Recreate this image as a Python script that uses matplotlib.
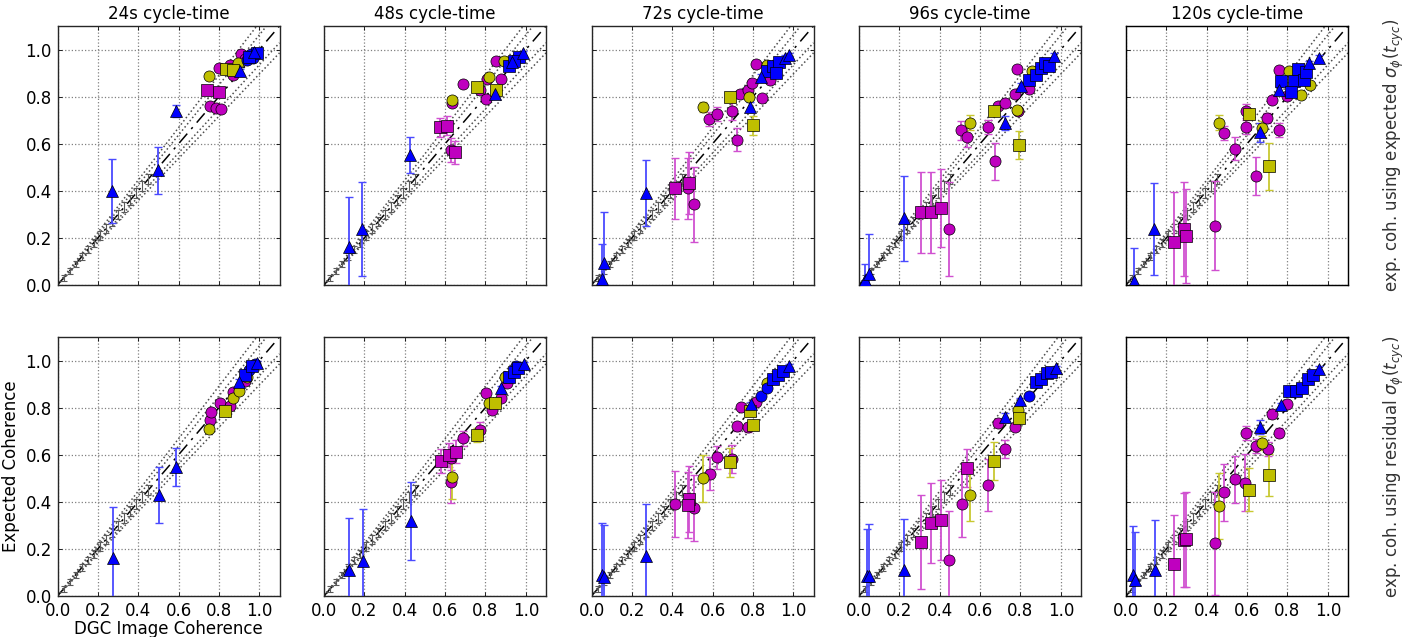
"""Expected vs. DGC image coherence, 2 rows x 5 cycle-times."""

import matplotlib
matplotlib.use("Agg")
import matplotlib.pyplot as plt
import numpy as np

cycle_times = ["24s", "48s", "72s", "96s", "120s"]
row_labels = [r"exp. coh. using expected $\sigma_\phi(t_{cyc})$",
              r"exp. coh. using residual $\sigma_\phi(t_{cyc})$"]
ticks = [0.0, 0.2, 0.4, 0.6, 0.8, 1.0]

# reference band factors and model error bars along the diagonal
band_factors = [1.114, 1.062, 0.935, 0.896]
diag_x = [0.03, 0.06, 0.09, 0.12, 0.15, 0.18, 0.21, 0.24, 0.27,
          0.30, 0.33, 0.36, 0.39, 0.42, 0.45]
diag_err = [0.012, 0.013, 0.014, 0.015, 0.016, 0.017, 0.018, 0.019,
            0.02, 0.02, 0.021, 0.021, 0.022, 0.022, 0.022]

# rows: (kind, x, y, yerr)   kind = colour + marker
exp_24 = [
    ("b^", 0.27, 0.40, 0.135), ("b^", 0.50, 0.487, 0.10), ("b^", 0.585, 0.74, 0.025),
    ("ms", 0.74, 0.827, 0.01), ("ms", 0.80, 0.82, 0.01),
    ("mo", 0.755, 0.762, 0.01), ("mo", 0.785, 0.752, 0.01), ("mo", 0.81, 0.748, 0.01),
    ("mo", 0.80, 0.92, 0.01), ("mo", 0.87, 0.89, 0.01), ("mo", 0.855, 0.936, 0.01),
    ("mo", 0.91, 0.98, 0.01), ("mo", 0.93, 0.96, 0.01),
    ("yo", 0.75, 0.887, 0.01), ("yo", 0.895, 0.943, 0.01),
    ("ys", 0.833, 0.918, 0.01), ("ys", 0.87, 0.912, 0.01),
    ("b^", 0.905, 0.908, 0.01),
    ("bo", 0.937, 0.957, 0.01), ("bo", 0.96, 0.979, 0.01), ("bs", 0.987, 0.986, 0.01),
    ("bs", 0.95, 0.97, 0.01), ("b^", 0.975, 0.99, 0.01), ("bo", 0.97, 0.965, 0.01),
]
exp_48 = [
    ("b^", 0.123, 0.163, 0.21), ("b^", 0.19, 0.237, 0.20), ("b^", 0.428, 0.553, 0.077),
    ("ms", 0.575, 0.67, 0.04), ("ms", 0.61, 0.677, 0.04),
    ("mo", 0.628, 0.574, 0.05), ("ms", 0.65, 0.563, 0.05),
    ("mo", 0.633, 0.773, 0.01), ("yo", 0.633, 0.787, 0.01),
    ("mo", 0.69, 0.854, 0.01), ("ys", 0.756, 0.841, 0.01), ("mo", 0.772, 0.827, 0.01),
    ("mo", 0.805, 0.79, 0.01), ("mo", 0.808, 0.873, 0.01), ("yo", 0.816, 0.884, 0.01),
    ("mo", 0.854, 0.953, 0.01), ("yo", 0.89, 0.95, 0.01), ("mo", 0.879, 0.873, 0.01),
    ("ys", 0.854, 0.83, 0.01), ("b^", 0.849, 0.81, 0.01),
    ("bs", 0.915, 0.93, 0.01), ("b^", 0.93, 0.945, 0.01), ("bo", 0.95, 0.96, 0.01),
    ("bs", 0.965, 0.97, 0.01), ("b^", 0.985, 0.985, 0.01), ("bs", 0.94, 0.95, 0.01),
]
exp_72 = [
    ("b^", 0.054, 0.024, 0.15), ("b^", 0.061, 0.092, 0.22), ("b^", 0.271, 0.39, 0.14),
    ("ms", 0.416, 0.411, 0.13), ("ms", 0.485, 0.433, 0.13), ("mo", 0.477, 0.411, 0.13),
    ("mo", 0.51, 0.343, 0.16),
    ("yo", 0.554, 0.756, 0.02), ("mo", 0.584, 0.706, 0.03), ("mo", 0.622, 0.728, 0.03),
    ("mo", 0.696, 0.739, 0.04), ("mo", 0.719, 0.617, 0.05),
    ("ys", 0.688, 0.80, 0.01), ("ys", 0.798, 0.678, 0.04), ("b^", 0.785, 0.756, 0.02),
    ("yo", 0.78, 0.80, 0.01), ("mo", 0.737, 0.813, 0.01), ("mo", 0.773, 0.83, 0.01),
    ("mo", 0.793, 0.858, 0.01), ("mo", 0.844, 0.794, 0.01), ("mo", 0.814, 0.94, 0.01),
    ("mo", 0.885, 0.872, 0.01), ("yo", 0.872, 0.936, 0.01),
    ("b^", 0.84, 0.885, 0.01), ("bs", 0.87, 0.91, 0.01), ("bs", 0.90, 0.93, 0.01),
    ("bs", 0.93, 0.945, 0.01), ("b^", 0.96, 0.965, 0.01), ("bs", 0.915, 0.90, 0.01),
    ("b^", 0.98, 0.975, 0.01),
]
exp_96 = [
    ("b^", 0.03, 0.02, 0.07), ("b^", 0.05, 0.045, 0.17), ("b^", 0.222, 0.284, 0.18),
    ("ms", 0.309, 0.308, 0.17), ("ms", 0.355, 0.308, 0.17), ("ms", 0.408, 0.326, 0.165),
    ("mo", 0.446, 0.238, 0.20),
    ("mo", 0.507, 0.657, 0.04), ("mo", 0.535, 0.628, 0.04), ("yo", 0.548, 0.69, 0.03),
    ("mo", 0.638, 0.67, 0.03), ("b^", 0.724, 0.688, 0.03), ("mo", 0.676, 0.525, 0.08),
    ("ys", 0.671, 0.74, 0.01), ("ys", 0.794, 0.596, 0.06),
    ("mo", 0.688, 0.762, 0.01), ("mo", 0.724, 0.773, 0.01), ("mo", 0.773, 0.811, 0.01),
    ("mo", 0.786, 0.738, 0.01), ("mo", 0.783, 0.918, 0.01), ("mo", 0.844, 0.833, 0.01),
    ("yo", 0.783, 0.745, 0.01), ("yo", 0.857, 0.908, 0.01), ("b^", 0.803, 0.847, 0.01),
    ("bs", 0.844, 0.872, 0.01), ("bs", 0.875, 0.89, 0.01), ("bs", 0.90, 0.92, 0.01),
    ("bs", 0.92, 0.943, 0.01), ("bs", 0.942, 0.93, 0.01), ("b^", 0.967, 0.974, 0.01),
]
exp_120 = [
    ("b^", 0.039, 0.017, 0.14), ("b^", 0.139, 0.237, 0.195),
    ("ms", 0.238, 0.184, 0.21), ("ms", 0.285, 0.237, 0.20), ("ms", 0.298, 0.209, 0.20),
    ("mo", 0.443, 0.252, 0.19),
    ("yo", 0.459, 0.69, 0.03), ("mo", 0.484, 0.645, 0.03), ("mo", 0.541, 0.579, 0.05),
    ("mo", 0.593, 0.67, 0.03), ("mo", 0.593, 0.738, 0.03), ("ys", 0.607, 0.728, 0.02),
    ("mo", 0.643, 0.464, 0.08), ("ys", 0.711, 0.504, 0.10),
    ("b^", 0.662, 0.648, 0.04), ("yo", 0.675, 0.667, 0.03), ("mo", 0.70, 0.709, 0.02),
    ("mo", 0.757, 0.66, 0.03), ("mo", 0.725, 0.787, 0.01), ("mo", 0.757, 0.915, 0.01),
    ("mo", 0.798, 0.801, 0.01), ("yo", 0.807, 0.911, 0.01), ("yo", 0.867, 0.809, 0.01),
    ("yo", 0.913, 0.851, 0.01),
    ("bs", 0.766, 0.865, 0.01), ("bs", 0.852, 0.918, 0.01), ("bs", 0.831, 0.865, 0.01),
    ("bs", 0.88, 0.87, 0.01), ("bs", 0.82, 0.821, 0.01), ("b^", 0.757, 0.83, 0.01),
    ("b^", 0.905, 0.943, 0.01), ("b^", 0.954, 0.965, 0.01), ("bs", 0.89, 0.905, 0.01),
]
res_24 = [
    ("b^", 0.273, 0.163, 0.215), ("b^", 0.504, 0.428, 0.12), ("b^", 0.587, 0.549, 0.08),
    ("yo", 0.752, 0.708, 0.01), ("mo", 0.755, 0.747, 0.01), ("mo", 0.759, 0.78, 0.01),
    ("mo", 0.805, 0.821, 0.01), ("mo", 0.855, 0.809, 0.01), ("mo", 0.871, 0.865, 0.01),
    ("mo", 0.929, 0.915, 0.01), ("ys", 0.83, 0.787, 0.01), ("yo", 0.871, 0.84, 0.01),
    ("yo", 0.90, 0.872, 0.01), ("yo", 0.94, 0.93, 0.01),
    ("b^", 0.90, 0.91, 0.01), ("bs", 0.93, 0.94, 0.01), ("bo", 0.95, 0.96, 0.01),
    ("bs", 0.965, 0.975, 0.01), ("bo", 0.98, 0.985, 0.01), ("b^", 0.99, 0.99, 0.01),
]
res_48 = [
    ("b^", 0.123, 0.112, 0.22), ("b^", 0.193, 0.149, 0.22), ("b^", 0.431, 0.318, 0.165),
    ("ms", 0.579, 0.574, 0.05), ("ms", 0.62, 0.599, 0.05), ("ms", 0.652, 0.613, 0.05),
    ("mo", 0.628, 0.584, 0.05), ("mo", 0.628, 0.485, 0.09), ("yo", 0.636, 0.504, 0.09),
    ("mo", 0.689, 0.669, 0.03), ("mo", 0.772, 0.707, 0.03), ("ys", 0.756, 0.684, 0.03),
    ("mo", 0.805, 0.864, 0.01), ("mo", 0.83, 0.79, 0.01), ("mo", 0.879, 0.84, 0.01),
    ("mo", 0.907, 0.904, 0.01), ("yo", 0.816, 0.821, 0.01), ("ys", 0.849, 0.821, 0.01),
    ("yo", 0.898, 0.932, 0.01), ("b^", 0.879, 0.882, 0.01),
    ("bs", 0.915, 0.93, 0.01), ("bs", 0.94, 0.95, 0.01), ("bs", 0.96, 0.97, 0.01),
    ("b^", 0.99, 0.985, 0.01), ("bo", 0.95, 0.975, 0.01),
]
res_72 = [
    ("b^", 0.054, 0.091, 0.22), ("b^", 0.06, 0.08, 0.22), ("b^", 0.271, 0.17, 0.22),
    ("mo", 0.416, 0.39, 0.14), ("ms", 0.485, 0.411, 0.14), ("ms", 0.477, 0.386, 0.14),
    ("mo", 0.51, 0.373, 0.14),
    ("yo", 0.554, 0.50, 0.10), ("mo", 0.587, 0.52, 0.07), ("mo", 0.622, 0.589, 0.05),
    ("mo", 0.694, 0.582, 0.06), ("ys", 0.688, 0.567, 0.06),
    ("mo", 0.72, 0.72, 0.02), ("mo", 0.74, 0.802, 0.01), ("mo", 0.773, 0.716, 0.02),
    ("mo", 0.814, 0.823, 0.01), ("ys", 0.798, 0.728, 0.02), ("ys", 0.785, 0.787, 0.01),
    ("yo", 0.872, 0.904, 0.01),
    ("bo", 0.839, 0.85, 0.01), ("bo", 0.872, 0.885, 0.01), ("b^", 0.79, 0.816, 0.01),
    ("bs", 0.90, 0.92, 0.01), ("bs", 0.925, 0.94, 0.01), ("bs", 0.95, 0.955, 0.01),
    ("b^", 0.98, 0.975, 0.01),
]
res_96 = [
    ("b^", 0.041, 0.084, 0.20), ("b^", 0.051, 0.085, 0.22), ("b^", 0.222, 0.109, 0.22),
    ("ms", 0.309, 0.23, 0.20), ("ms", 0.355, 0.312, 0.17), ("ms", 0.408, 0.322, 0.17),
    ("mo", 0.446, 0.153, 0.21), ("mo", 0.512, 0.39, 0.14), ("yo", 0.551, 0.43, 0.11),
    ("ms", 0.536, 0.543, 0.08), ("mo", 0.641, 0.472, 0.11), ("ys", 0.671, 0.574, 0.08),
    ("mo", 0.725, 0.624, 0.04), ("mo", 0.688, 0.733, 0.01), ("mo", 0.775, 0.716, 0.01),
    ("ys", 0.794, 0.755, 0.02), ("yo", 0.786, 0.79, 0.01),
    ("b^", 0.725, 0.759, 0.02), ("b^", 0.799, 0.833, 0.01), ("bo", 0.844, 0.851, 0.01),
    ("bs", 0.877, 0.908, 0.01), ("bs", 0.90, 0.92, 0.01), ("bs", 0.93, 0.945, 0.01),
    ("bs", 0.95, 0.95, 0.01), ("b^", 0.975, 0.967, 0.01),
]
res_120 = [
    ("b^", 0.033, 0.088, 0.21), ("b^", 0.044, 0.07, 0.20), ("b^", 0.143, 0.112, 0.21),
    ("ms", 0.236, 0.135, 0.21), ("ms", 0.285, 0.237, 0.20), ("ms", 0.298, 0.24, 0.20),
    ("mo", 0.443, 0.223, 0.22), ("yo", 0.462, 0.383, 0.14), ("mo", 0.484, 0.44, 0.12),
    ("mo", 0.541, 0.496, 0.10), ("mo", 0.59, 0.481, 0.12), ("ys", 0.61, 0.452, 0.09),
    ("ys", 0.711, 0.513, 0.09),
    ("mo", 0.593, 0.694, 0.03), ("mo", 0.643, 0.637, 0.03), ("mo", 0.703, 0.623, 0.03),
    ("mo", 0.757, 0.694, 0.02), ("mo", 0.725, 0.772, 0.01), ("mo", 0.798, 0.816, 0.01),
    ("yo", 0.675, 0.65, 0.03), ("b^", 0.662, 0.719, 0.03), ("b^", 0.766, 0.811, 0.01),
    ("bs", 0.807, 0.87, 0.01), ("bs", 0.84, 0.87, 0.01), ("bs", 0.87, 0.885, 0.01),
    ("bs", 0.90, 0.92, 0.01), ("bs", 0.925, 0.94, 0.01), ("b^", 0.954, 0.965, 0.01),
]

panels = [[exp_24, exp_48, exp_72, exp_96, exp_120],
          [res_24, res_48, res_72, res_96, res_120]]

colors = {"b": (0.0, 0.0, 1.0), "m": (0.75, 0.0, 0.75), "y": (0.75, 0.75, 0.0)}
ecolors = {"b": "#4a4aff", "m": "#d050d0", "y": "#c8c830"}
draw_order = ["mo", "ms", "yo", "ys", "bo", "bs", "b^"]

plt.rcParams["font.family"] = "DejaVu Sans"
plt.rcParams["font.size"] = 12
plt.rcParams["mathtext.fontset"] = "dejavusans"

fig = plt.figure(figsize=(14.1, 6.37), dpi=100)
W, H = 1410.0, 637.0
lefts = [57.5, 324, 591.5, 859, 1126]
bottoms = [285, 596]
aw, ah = 222.0, 259.0

line = np.array([0.0, 1.1])
for r in range(2):
    for c in range(5):
        ax = fig.add_axes([lefts[c] / W, 1 - bottoms[r] / H, aw / W, ah / H])
        ax.set_xlim(0, 1.1)
        ax.set_ylim(0, 1.1)
        ax.set_xticks(ticks)
        ax.set_yticks(ticks)
        ax.grid(True, linestyle=":", color="0.5", linewidth=0.9)
        ax.set_axisbelow(True)
        ax.tick_params(direction="in", top=True, right=True, length=3,
                       width=0.6, labelsize=12, pad=4)
        for s in ax.spines.values():
            s.set_linewidth(1.0)
            s.set_color("0.15")

        ax.plot(line, line, color="k", linestyle=(0, (8, 4, 1.5, 4)), lw=1.1,
                zorder=2)
        for k in band_factors:
            ax.plot(line, line * k, color="0.3", linestyle=":", lw=1.1, zorder=2)
        ax.errorbar(diag_x, diag_x, yerr=diag_err, fmt="none", ecolor="0.35",
                    elinewidth=0.8, capsize=2.5, capthick=0.8, zorder=2)

        rows = panels[r][c]
        for kind in draw_order:
            pts = [p for p in rows if p[0] == kind]
            if not pts:
                continue
            xs = [p[1] for p in pts]
            ys = [p[2] for p in pts]
            es = [p[3] for p in pts]
            col = kind[0]
            ax.errorbar(xs, ys, yerr=es, fmt="none", ecolor=ecolors[col],
                        elinewidth=1.3, capsize=3, capthick=1.0, zorder=3)
            ax.plot(xs, ys, linestyle="none", marker=kind[1], markersize=8,
                    markerfacecolor=colors[col], markeredgecolor="k",
                    markeredgewidth=0.5, zorder=4)

        if r == 0:
            ax.set_title(f"{cycle_times[c]} cycle-time", fontsize=12, pad=5)
            ax.set_xticklabels([])
        if c > 0:
            ax.set_yticklabels([])
        if r == 1 and c == 0:
            ax.set_xlabel("DGC Image Coherence", fontsize=12, labelpad=0)
            ax.set_ylabel("Expected Coherence", fontsize=12, labelpad=4)
        if c == 4:
            ax2 = ax.twinx()
            ax2.set_yticks([])
            ax2.set_ylabel(row_labels[r], fontsize=12, color="0.2", labelpad=24)

fig.savefig("out.png", dpi=100)
